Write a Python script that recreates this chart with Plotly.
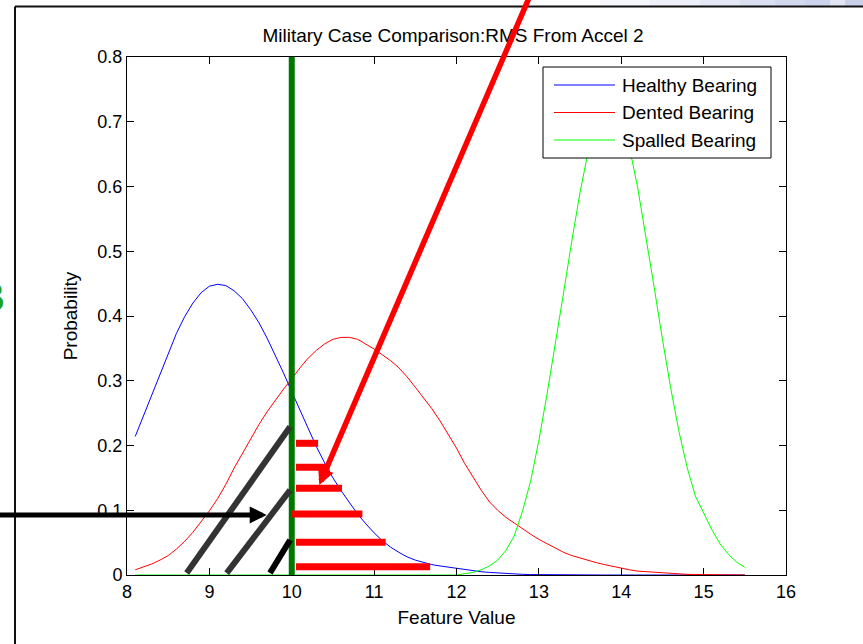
import plotly.graph_objects as go

# ---------------- data ----------------
feature_value = [8.1, 8.2, 8.3, 8.4, 8.5, 8.6, 8.7, 8.8, 8.9, 9.0,
                 9.1, 9.2, 9.3, 9.4, 9.5, 9.6, 9.7, 9.8, 9.9, 10.0,
                 10.1, 10.2, 10.3, 10.4, 10.5, 10.6, 10.7, 10.8, 10.9, 11.0,
                 11.1, 11.2, 11.3, 11.4, 11.5, 11.6, 11.7, 11.8, 11.9, 12.0,
                 12.1, 12.2, 12.3, 12.4, 12.5, 12.6, 12.7, 12.8, 12.9, 13.0,
                 13.1, 13.2, 13.3, 13.4, 13.5, 13.6, 13.7, 13.8, 13.9, 14.0,
                 14.1, 14.2, 14.3, 14.4, 14.5, 14.6, 14.7, 14.8, 14.9, 15.0,
                 15.1, 15.2, 15.3, 15.4, 15.5]

healthy = [0.214, 0.246, 0.279, 0.312, 0.344, 0.373, 0.399, 0.420, 0.436, 0.446,
           0.449, 0.447, 0.439, 0.427, 0.410, 0.390, 0.366, 0.340, 0.312, 0.283,
           0.254, 0.226, 0.198, 0.173, 0.150, 0.130, 0.111, 0.094, 0.079, 0.065,
           0.053, 0.043, 0.035, 0.028, 0.023, 0.019, 0.016, 0.014, 0.012, 0.010,
           0.008, 0.006, 0.005, 0.004, 0.003, 0.002, 0.0015, 0.001, 0.0007, 0.0005,
           0.0003, 0.0002, 0.0001, 0, 0, 0, 0, 0, 0, 0,
           0, 0, 0, 0, 0, 0, 0, 0, 0, 0,
           0, 0, 0, 0, 0]

dented = [0.008, 0.012, 0.017, 0.023, 0.030, 0.040, 0.052, 0.066, 0.082, 0.099,
          0.118, 0.140, 0.165, 0.188, 0.211, 0.232, 0.252, 0.270, 0.287, 0.303,
          0.320, 0.335, 0.347, 0.357, 0.364, 0.367, 0.367, 0.364, 0.357, 0.349,
          0.340, 0.331, 0.320, 0.306, 0.290, 0.273, 0.257, 0.238, 0.218, 0.196,
          0.172, 0.151, 0.131, 0.113, 0.100, 0.089, 0.080, 0.071, 0.063, 0.055,
          0.048, 0.041, 0.035, 0.030, 0.026, 0.022, 0.019, 0.016, 0.013, 0.010,
          0.008, 0.006, 0.005, 0.004, 0.003, 0.002, 0.0015, 0.001, 0.0008, 0.0005,
          0.0003, 0.0002, 0.0001, 0.0001, 0]

spalled = [0, 0, 0, 0, 0, 0, 0, 0, 0, 0,
           0, 0, 0, 0, 0, 0, 0, 0, 0, 0,
           0, 0, 0, 0, 0, 0, 0, 0, 0, 0,
           0, 0, 0, 0, 0, 0, 0, 0, 0, 0,
           0.002, 0.004, 0.008, 0.014, 0.023, 0.038, 0.060, 0.098, 0.145, 0.208,
           0.280, 0.356, 0.436, 0.516, 0.591, 0.655, 0.701, 0.726, 0.728, 0.705,
           0.660, 0.598, 0.524, 0.444, 0.364, 0.289, 0.222, 0.166, 0.122, 0.095,
           0.070, 0.048, 0.032, 0.020, 0.012]

series_names = ["Healthy Bearing", "Dented Bearing", "Spalled Bearing"]
series_colors = ["#0000ff", "#ff0000", "#00ff00"]

x_ticks = [8, 9, 10, 11, 12, 13, 14, 15, 16]
y_ticks = [0, 0.1, 0.2, 0.3, 0.4, 0.5, 0.6, 0.7, 0.8]

# overlay annotations drawn on the slide (data coordinates)
threshold_x = 10
hatch_x0 = [8.725, 9.21, 9.736]
hatch_y1 = [0.229, 0.131, 0.054]
hatch_colors = ["#333333", "#333333", "#000000"]
bar_y = [0.2034, 0.1663, 0.1339, 0.0942, 0.0505, 0.0128]
bar_x0 = [10.05, 10.05, 10.05, 10.0, 10.05, 10.05]
bar_x1 = [10.32, 10.46, 10.61, 10.857, 11.14, 11.68]

# ---------------- layout helpers ----------------
W, H = 863, 644
PL, PR, PT, PB = 127, 786, 57, 575   # plot area in pixels


def px_x(p):
    return (p - PL) / (PR - PL)


def px_y(p):
    return (PB - p) / (PB - PT)


FONT = "Arial, Liberation Sans, Helvetica, sans-serif"

fig = go.Figure()
for name, col, ys in zip(series_names, series_colors, [healthy, dented, spalled]):
    fig.add_trace(go.Scatter(x=feature_value, y=ys, mode="lines", name=name,
                             line=dict(color=col, width=1), showlegend=False))

shapes = []
# light gradient strip above frame (top right)
grad_cols = ["#f6f7fc", "#eef0f9", "#e4e8f5", "#dadff1", "#d2d8ee", "#ccd3ec", "#e2e6f4", "#c8d0ea"]
grad_edges = [600, 650, 700, 740, 775, 805, 830, 845, 870]
for i, c in enumerate(grad_cols):
    shapes.append(dict(type="rect", xref="paper", yref="paper",
                       x0=px_x(grad_edges[i]), x1=px_x(grad_edges[i + 1]),
                       y0=px_y(6), y1=px_y(-2), fillcolor=c, line=dict(width=0), layer="below"))
# outer slide frame
shapes.append(dict(type="line", xref="paper", yref="paper", x0=px_x(15), x1=px_x(880),
                   y0=px_y(6.5), y1=px_y(6.5), line=dict(color="#111111", width=2)))
shapes.append(dict(type="line", xref="paper", yref="paper", x0=px_x(15), x1=px_x(15),
                   y0=px_y(6.5), y1=px_y(660), line=dict(color="#111111", width=2)))
# threshold line
shapes.append(dict(type="line", xref="x", yref="y", x0=threshold_x, x1=threshold_x,
                   y0=0, y1=0.8, line=dict(color="#007800", width=6), layer="above"))
# hatch lines
for x0, y1, c in zip(hatch_x0, hatch_y1, hatch_colors):
    shapes.append(dict(type="line", xref="x", yref="y", x0=x0, y0=0.003, x1=9.98, y1=y1,
                       line=dict(color=c, width=6), layer="above"))
# red bars
for y, x0, x1 in zip(bar_y, bar_x0, bar_x1):
    shapes.append(dict(type="line", xref="x", yref="y", x0=x0, x1=x1, y0=y, y1=y,
                       line=dict(color="#ff0000", width=7), layer="above"))
# custom legend box
shapes.append(dict(type="rect", xref="paper", yref="paper",
                   x0=px_x(543), x1=px_x(771), y0=px_y(158), y1=px_y(67),
                   fillcolor="white", line=dict(color="black", width=1), layer="above"))
leg_rows = [85, 112.5, 140]
for r, c in zip(leg_rows, series_colors):
    shapes.append(dict(type="line", xref="paper", yref="paper", x0=px_x(554), x1=px_x(615),
                       y0=px_y(r), y1=px_y(r), line=dict(color=c, width=1), layer="above"))

annotations = []
for r, n in zip(leg_rows, series_names):
    annotations.append(dict(xref="paper", yref="paper", x=px_x(620), y=px_y(r),
                            xanchor="left", yanchor="middle", text=n, showarrow=False,
                            font=dict(family=FONT, size=19, color="black")))
# red arrow
annotations.append(dict(xref="x", yref="y", axref="x", ayref="y", x=10.334, y=0.139,
                        ax=12.91, ay=0.9, text="", showarrow=True, arrowhead=2,
                        arrowsize=0.6, arrowwidth=5.5, arrowcolor="#ff0000", standoff=0))
# black arrow
annotations.append(dict(xref="x", yref="y", axref="x", ayref="y", x=9.696, y=0.0927,
                        ax=6.3, ay=0.0927, text="", showarrow=True, arrowhead=2,
                        arrowsize=0.68, arrowwidth=5, arrowcolor="#000000", standoff=0))
# partial green letter at the slide's left edge
annotations.append(dict(xref="paper", yref="paper", x=px_x(7), y=px_y(297),
                        xanchor="right", yanchor="middle", text="<b>B</b>", showarrow=False,
                        font=dict(family=FONT, size=40, color="#22a022")))

fig.update_layout(
    width=W, height=H,
    margin=dict(l=PL, r=W - PR, t=PT, b=H - PB),
    paper_bgcolor="white", plot_bgcolor="white",
    font=dict(family=FONT, size=19, color="black"),
    title=dict(text="Military Case Comparison:RMS From Accel 2", x=px_x(453), xref="paper",
               xanchor="center", y=1 - 35 / H, yref="container", yanchor="middle",
               font=dict(family=FONT, size=19, color="black")),
    xaxis=dict(range=[8, 16], tickvals=x_ticks, ticktext=[str(v) for v in x_ticks],
               ticks="inside", ticklen=7, tickcolor="black", mirror="allticks",
               showline=True, linecolor="black", linewidth=1, showgrid=False, zeroline=False,
               tickfont=dict(size=18), title=dict(text="Feature Value", standoff=10,
                                                  font=dict(size=19))),
    yaxis=dict(range=[0, 0.8], tickvals=y_ticks, ticktext=[("%g" % v) for v in y_ticks],
               ticks="inside", ticklen=7, tickcolor="black", mirror="allticks",
               showline=True, linecolor="black", linewidth=1, showgrid=False, zeroline=False,
               tickfont=dict(size=18), title=dict(text="Probability", standoff=14,
                                                  font=dict(size=19))),
    shapes=shapes, annotations=annotations,
)

fig.write_html("out.html")
